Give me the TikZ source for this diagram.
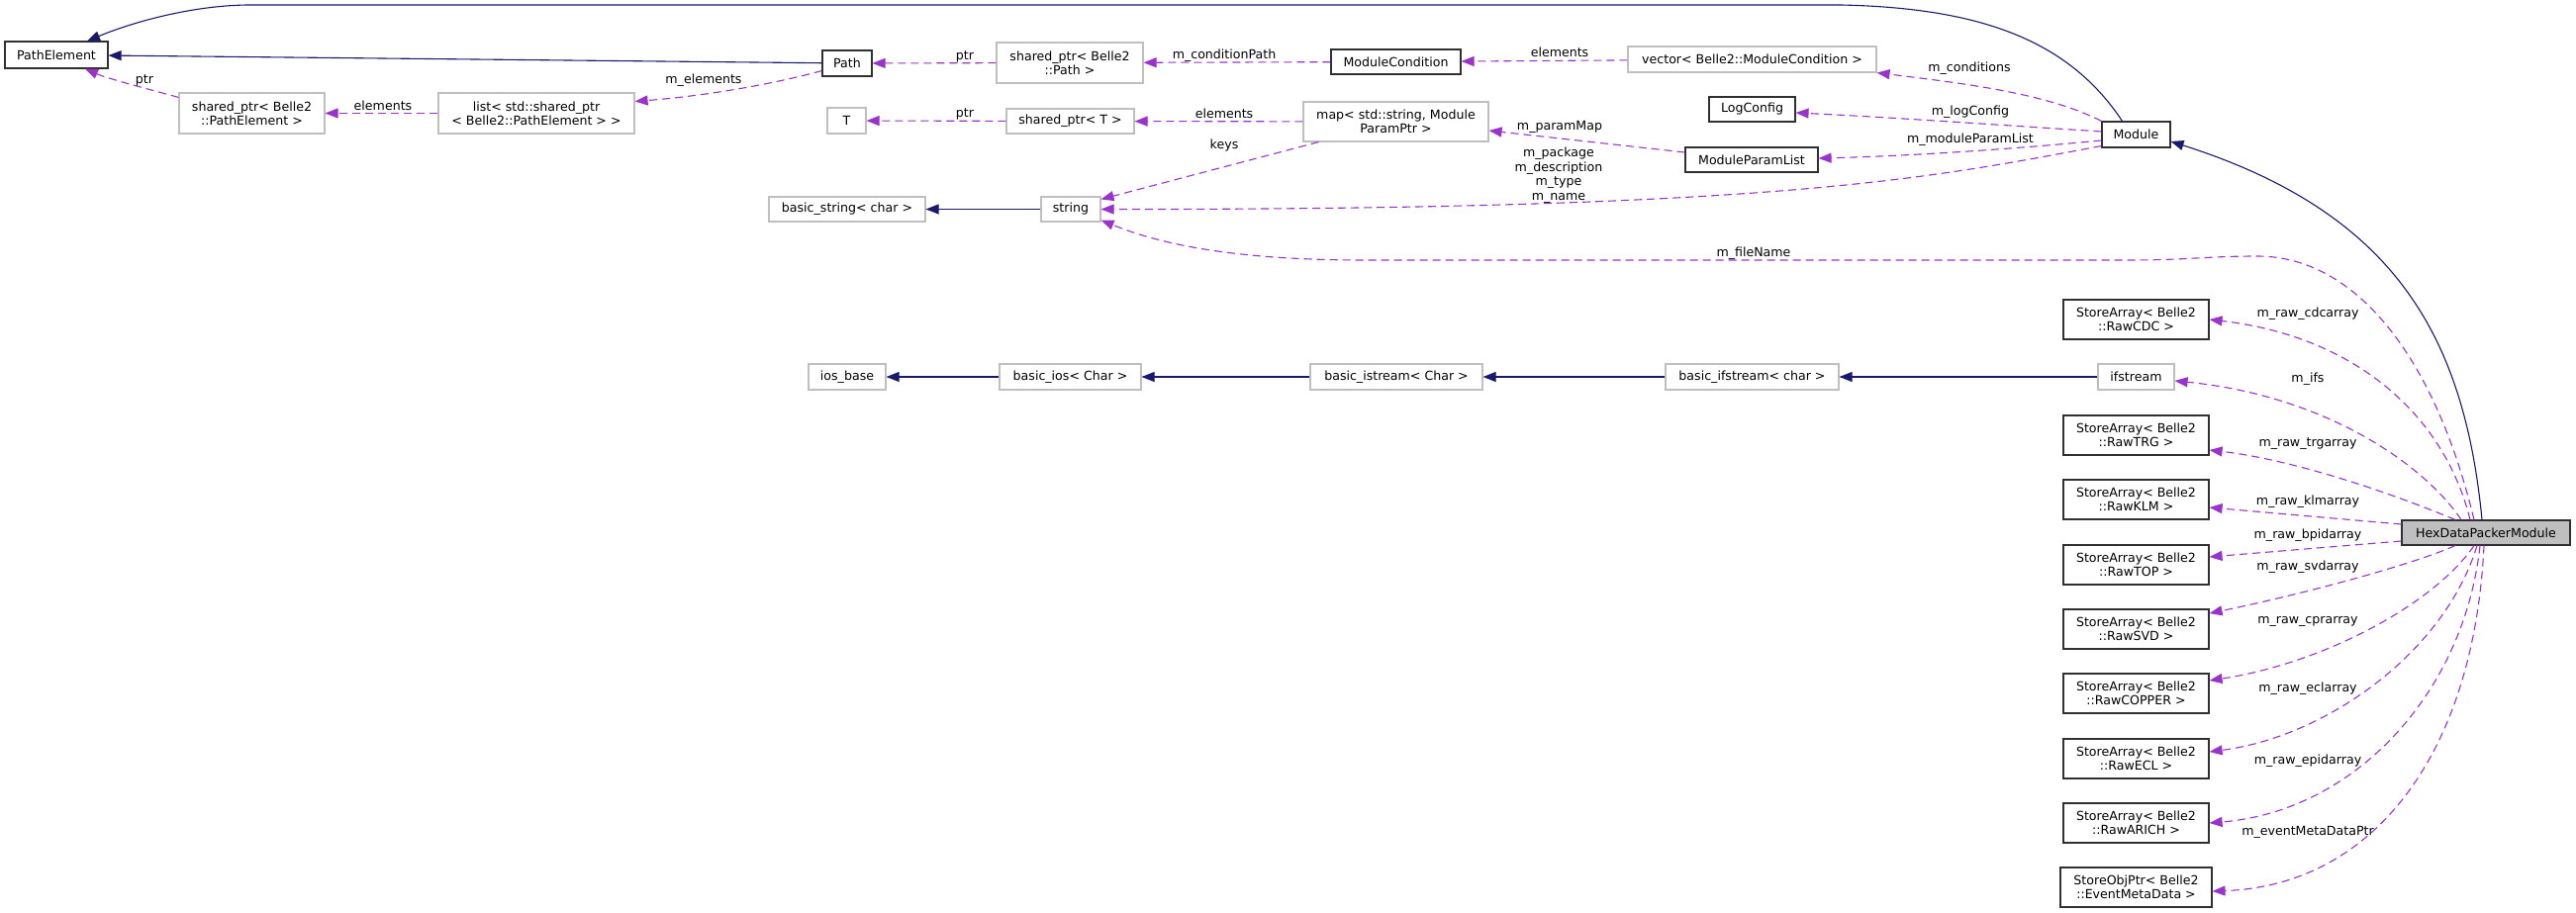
\documentclass[tikz,border=0pt]{standalone}
\usepackage{fontspec}
\setmainfont{DejaVu Sans}
\usetikzlibrary{arrows.meta,calc}
\definecolor{navy}{HTML}{191970}
\definecolor{orchid}{HTML}{9A32CD}
\definecolor{lightgr}{HTML}{BFBFBF}
\definecolor{darkb}{HTML}{303030}
\newcommand{\fnt}{\fontsize{12.6}{14}\selectfont}
\begin{document}
\begin{tikzpicture}[x=1pt,y=-1pt,
  box/.style={inner sep=0pt, align=center, font=\fnt, line width=1.1pt},
  doc/.style={box, draw=darkb},
  undoc/.style={box, draw=lightgr},
  hexbox/.style={box, draw=darkb, fill=lightgr},
  inh/.style={draw=navy, line width=1.1pt, -{Triangle[length=13pt,width=10pt]}},
  dep/.style={draw=orchid, line width=1.1pt, dash pattern=on 8pt off 5pt, -{Triangle[length=13pt,width=10pt]}},
  lbl/.style={inner sep=0pt, font=\fnt, align=center}]
\useasboundingbox (0,0) rectangle (2603,923);
\fill[white] (0,0) rectangle (2603,923);
% nodes
\node[doc, minimum width=104pt, minimum height=27pt] (pe) at (57,55.5) {PathElement};
\node[doc, minimum width=50pt, minimum height=26pt] (npath) at (856,64) {Path};
\node[undoc, minimum width=147pt, minimum height=41pt] (sppe) at (254.5,114.5) {shared\_ptr< Belle2\\::PathElement >};
\node[undoc, minimum width=198pt, minimum height=41pt] (listpe) at (542,114.5) {list< std::shared\_ptr\\< Belle2::PathElement > >};
\node[undoc, minimum width=39pt, minimum height=26pt] (tT) at (855.5,122) {T};
\node[undoc, minimum width=148pt, minimum height=41pt] (sppath) at (1081,63.5) {shared\_ptr< Belle2\\::Path >};
\node[doc, minimum width=131pt, minimum height=25pt] (mc) at (1410.5,62.5) {ModuleCondition};
\node[undoc, minimum width=251pt, minimum height=26pt] (vec) at (1770.5,60) {vector< Belle2::ModuleCondition >};
\node[undoc, minimum width=129pt, minimum height=25pt] (spt) at (1081.5,122.5) {shared\_ptr< T >};
\node[undoc, minimum width=187pt, minimum height=40pt] (map) at (1410.5,123) {map< std::string, Module\\ParamPtr >};
\node[doc, minimum width=87pt, minimum height=25pt] (logc) at (1770.5,110.5) {LogConfig};
\node[doc, minimum width=134pt, minimum height=25pt] (mpl) at (1770,161.5) {ModuleParamList};
\node[doc, minimum width=69pt, minimum height=26pt] (module) at (2158.5,136) {Module};
\node[undoc, minimum width=158pt, minimum height=25pt] (bstr) at (856,211.5) {basic\_string< char >};
\node[undoc, minimum width=60pt, minimum height=25pt] (str) at (1082,211.5) {string};
\node[undoc, minimum width=78pt, minimum height=26pt] (iosb) at (856,381) {ios\_base};
\node[undoc, minimum width=143pt, minimum height=26pt] (bios) at (1081.5,381) {basic\_ios< Char >};
\node[undoc, minimum width=174pt, minimum height=26pt] (bist) at (1411,381) {basic\_istream< Char >};
\node[undoc, minimum width=175pt, minimum height=26pt] (bifs) at (1770.5,381) {basic\_ifstream< char >};
\node[undoc, minimum width=77pt, minimum height=26pt] (ifs) at (2158.5,381) {ifstream};
\node[doc, minimum width=147pt, minimum height=40pt] (cdc) at (2158.5,323) {StoreArray< Belle2\\::RawCDC >};
\node[doc, minimum width=147pt, minimum height=40pt] (trg) at (2158.5,440) {StoreArray< Belle2\\::RawTRG >};
\node[doc, minimum width=147pt, minimum height=40pt] (klm) at (2158.5,505) {StoreArray< Belle2\\::RawKLM >};
\node[doc, minimum width=147pt, minimum height=40pt] (top) at (2158.5,571) {StoreArray< Belle2\\::RawTOP >};
\node[doc, minimum width=147pt, minimum height=40pt] (svd) at (2158.5,636) {StoreArray< Belle2\\::RawSVD >};
\node[doc, minimum width=147pt, minimum height=40pt] (cpr) at (2158.5,701) {StoreArray< Belle2\\::RawCOPPER >};
\node[doc, minimum width=147pt, minimum height=40pt] (ecl) at (2158.5,767) {StoreArray< Belle2\\::RawECL >};
\node[doc, minimum width=147pt, minimum height=40pt] (arich) at (2158.5,832) {StoreArray< Belle2\\::RawARICH >};
\node[doc, minimum width=153pt, minimum height=40pt] (evt) at (2158.5,897) {StoreObjPtr< Belle2\\::EventMetaData >};
\node[hexbox, minimum width=170pt, minimum height=25pt] (hex) at (2512,538.5) {HexDataPackerModule};
% edges
\draw[inh] (npath) -- (pe);
\draw[inh] ($(module.north)+(-14,0)$) .. controls (2090,40) and (2000,8) .. (1860,5) -- (253,5) .. controls (200,5) and (140,20) .. ($(pe.north)+(31,0)$);
\draw[dep] ($(sppe.north west)+(0,5)$) .. controls (150,90) and (110,80) .. ($(pe.south)+(29,0)$);
\draw[dep] (listpe) -- (sppe);
\draw[dep] ($(npath.south west)+(0,-6)$) .. controls (770,88) and (700,98) .. ($(listpe.north east)+(0,9)$);
\draw[dep] (sppath) -- (npath);
\draw[dep] (mc) -- (sppath);
\draw[dep] (vec) -- (mc);
\draw[dep] (spt) -- (tT);
\draw[dep] (map) -- (spt);
\draw[dep] ($(map.south west)+(16,0)$) -- ($(str.north east)+(0,3)$);
\draw[dep] ($(mpl.west)+(0,-7.5)$) -- ($(map.east)+(0,9)$);
\draw[dep] ($(module.west)+(0,-3)$) .. controls (2000,125) and (1900,118) .. ($(logc.east)+(0,3.5)$);
\draw[dep] ($(module.west)+(0,6)$) .. controls (2020,152) and (1920,158) .. ($(mpl.east)+(0,-1.5)$);
\draw[dep] (module.north west) .. controls (2070,95) and (1990,85) .. (vec.south east);
\draw[dep] ($(module.south west)+(0,-2)$) .. controls (1950,180) and (1800,212) .. (str.east);
\draw[inh] (str) -- (bstr);
\draw[dep] ($(hex.north)+(-12,0)$) .. controls (2460,360) and (2380,259) .. (2281,259) .. controls (2230,259) and (2210,263) .. (2150,263) -- (1380,263) .. controls (1260,263) and (1180,250) .. ($(str.south east)+(0,-2)$);
\draw[inh] ($(hex.north)+(-4,0)$) .. controls (2490,340) and (2420,215) .. ($(module.east)+(0,7)$);
\draw[inh] (ifs) -- (bifs);
\draw[inh] (bifs) -- (bist);
\draw[inh] (bist) -- (bios);
\draw[inh] (bios) -- (iosb);
\draw[dep] ($(hex.north)+(-25,0)$) .. controls (2450,470) and (2350,400) .. ($(ifs.east)+(0,4)$);
\draw[dep] ($(hex.north)+(-16,0)$) .. controls (2470,420) and (2380,340) .. (cdc.east);
\draw[dep] ($(hex.north)+(-31,0)$) .. controls (2420,500) and (2320,465) .. ($(trg.east)+(0,15)$);
\draw[dep] ($(hex.west)+(0,-8.5)$) -- ($(klm.east)+(0,8)$);
\draw[dep] ($(hex.west)+(0,8.5)$) -- ($(top.east)+(0,-8)$);
\draw[dep] ($(hex.south)+(-31,0)$) .. controls (2440,570) and (2330,600) .. ($(svd.east)+(0,-16)$);
\draw[dep] ($(hex.south)+(-12,0)$) .. controls (2460,610) and (2350,670) .. ($(cpr.east)+(0,-13)$);
\draw[dep] ($(hex.south)+(-9,0)$) .. controls (2470,660) and (2350,745) .. ($(ecl.east)+(0,-7)$);
\draw[dep] ($(hex.south)+(-6,0)$) .. controls (2490,700) and (2380,820) .. (arich.east);
\draw[dep] ($(hex.south)+(-2,0)$) .. controls (2500,760) and (2400,895) .. ($(evt.east)+(0,4)$);
% labels
\node[lbl] (l1) at (146,81) {ptr};
\node[lbl] (l2) at (387,107) {elements};
\node[lbl] (l3) at (711,81) {m\_elements};
\node[lbl] (l4) at (975,57) {ptr};
\node[lbl] (l5) at (1237,56) {m\_conditionPath};
\node[lbl] (l6) at (1576,53) {elements};
\node[lbl] (l7) at (975,115) {ptr};
\node[lbl] (l8) at (1237,115) {elements};
\node[lbl] (l9) at (1237,147) {keys};
\node[lbl] (l10) at (1576,128) {m\_paramMap};
\node[lbl, font=\fontsize{12.6}{14.6}\selectfont] (l11) at (1575,177) {m\_package\\m\_description\\m\_type\\m\_name};
\node[lbl] (l12) at (1990,69) {m\_conditions};
\node[lbl] (l13) at (1991,113) {m\_logConfig};
\node[lbl] (l14) at (1991,141) {m\_moduleParamList};
\node[lbl] (l15) at (1772,256) {m\_fileName};
\node[lbl] (l16) at (2332,317) {m\_raw\_cdcarray};
\node[lbl] (l17) at (2332,383) {m\_ifs};
\node[lbl] (l18) at (2332,449) {m\_raw\_trgarray};
\node[lbl] (l19) at (2332,507) {m\_raw\_klmarray};
\node[lbl] (l20) at (2332,541) {m\_raw\_bpidarray};
\node[lbl] (l21) at (2332,573) {m\_raw\_svdarray};
\node[lbl] (l22) at (2332,628) {m\_raw\_cprarray};
\node[lbl] (l23) at (2332,696) {m\_raw\_eclarray};
\node[lbl] (l24) at (2332,769) {m\_raw\_epidarray};
\node[lbl] (l25) at (2332,841) {m\_eventMetaDataPtr};
\end{tikzpicture}
\end{document}
